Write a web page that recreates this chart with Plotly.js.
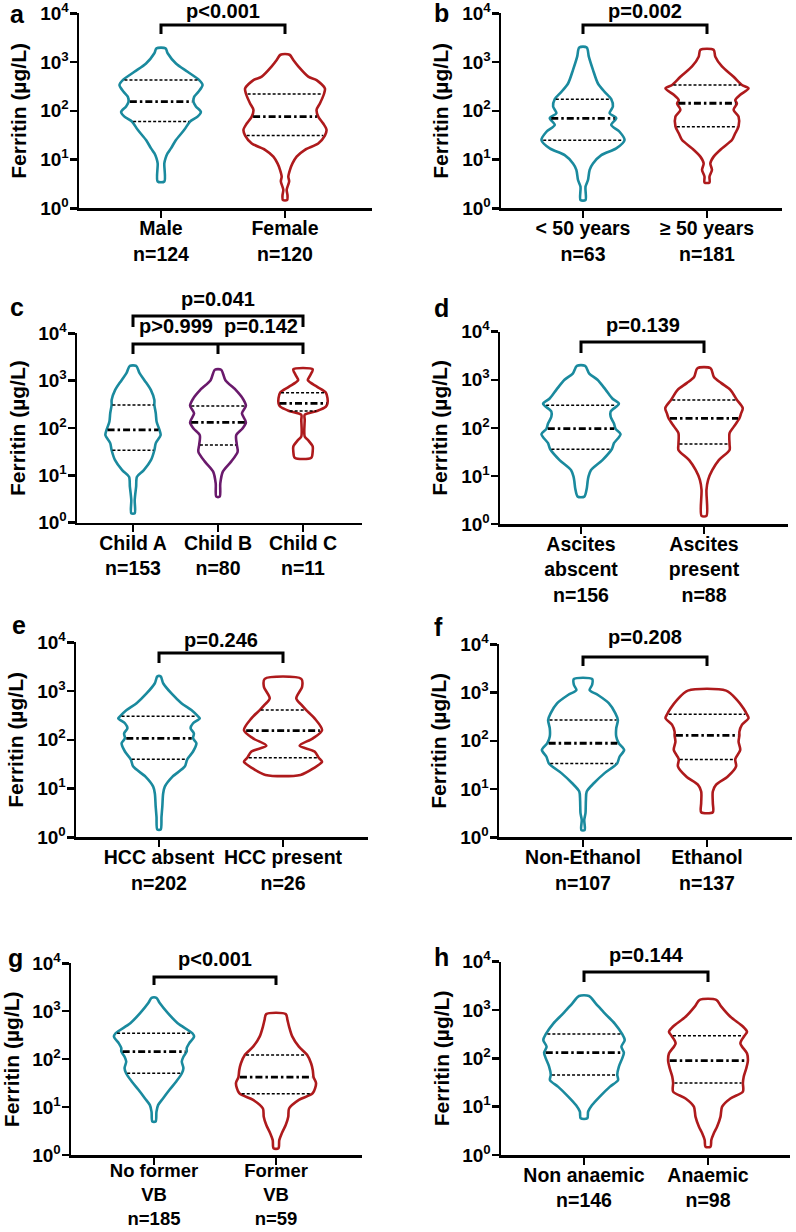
<!DOCTYPE html>
<html><head><meta charset="utf-8">
<script src="https://cdn.plot.ly/plotly-3.0.1.min.js"></script>
<style>html,body{margin:0;padding:0;background:#fff}#chart{width:796px;height:1232px}</style>
</head><body><div id="chart"></div>
<script>
// ---------- tick labels ----------
const yTickVals = [1, 10, 100, 1000, 10000];
const yTickText = ['10<sup>0</sup>', '10<sup>1</sup>', '10<sup>2</sup>', '10<sup>3</sup>', '10<sup>4</sup>'];
const yTitle = 'Ferritin (µg/L)';

// ---------- categories ----------
const catsA = ['Male<br>n=124', 'Female<br>n=120'];
const catsB = ['&lt; 50 years<br>n=63', '≥ 50 years<br>n=181'];
const catsC = ['Child A<br>n=153', 'Child B<br>n=80', 'Child C<br>n=11'];
const catsD = ['Ascites<br>abscent<br>n=156', 'Ascites<br>present<br>n=88'];
const catsE = ['HCC absent<br>n=202', 'HCC present<br>n=26'];
const catsF = ['Non-Ethanol<br>n=107', 'Ethanol<br>n=137'];
const catsG = ['No former<br>VB<br>n=185', 'Former<br>VB<br>n=59'];
const catsH = ['Non anaemic<br>n=146', 'Anaemic<br>n=98'];

// ---------- p-values ----------
const pA = ['p&lt;0.001'];
const pB = ['p=0.002'];
const pC = ['p=0.041', 'p&gt;0.999', 'p=0.142'];
const pD = ['p=0.139'];
const pE = ['p=0.246'];
const pF = ['p=0.208'];
const pG = ['p&lt;0.001'];
const pH = ['p=0.144'];

// ---------- violin profiles: log10(ferritin) levels and relative density (half-width) ----------
const male_lv = [3.28,3.18,2.97,2.80,2.63,2.53,2.39,2.29,2.19,2.09,1.98,1.88,1.78,1.61,1.40,1.23,1.13,1.03,0.92,0.55];
const male_w  = [0.11,0.16,0.36,0.64,0.92,1.00,0.90,0.80,0.78,0.84,0.96,0.88,0.70,0.56,0.36,0.24,0.16,0.11,0.08,0.08];
const male_q  = [60, 154, 429];

const female_lv = [3.15,3.04,2.91,2.70,2.63,2.46,2.35,2.15,2.02,1.88,1.74,1.61,1.49,1.33,1.20,1.06,0.92,0.79,0.65,0.55,0.38,0.27,0.17];
const female_w  = [0.11,0.20,0.32,0.56,0.76,0.96,0.94,0.84,0.76,0.80,0.92,1.00,0.96,0.80,0.48,0.28,0.18,0.12,0.08,0.10,0.04,0.06,0.05];
const female_q  = [31, 76, 221];

const under50_lv = [3.30,3.11,2.84,2.56,2.39,2.24,2.09,1.95,1.85,1.71,1.57,1.40,1.23,1.09,0.92,0.79,0.58,0.44,0.17];
const under50_w  = [0.09,0.14,0.24,0.36,0.52,0.68,0.72,0.64,0.80,0.68,0.88,1.00,0.80,0.44,0.24,0.16,0.12,0.06,0.06];
const under50_q  = [25, 70, 172];

const over50_lv = [3.25,3.11,2.91,2.70,2.53,2.46,2.33,2.22,2.15,2.02,1.88,1.68,1.54,1.40,1.23,1.06,0.92,0.79,0.65,0.53];
const over50_w  = [0.16,0.20,0.36,0.64,0.84,1.00,0.80,0.68,0.72,0.64,0.76,0.76,0.68,0.60,0.36,0.16,0.08,0.12,0.06,0.06];
const over50_q  = [47, 143, 339];

const childA_lv = [3.31,3.16,3.01,2.80,2.59,2.49,2.31,2.13,1.96,1.85,1.68,1.53,1.32,1.11,0.97,0.76,0.48,0.20];
const childA_w  = [0.11,0.23,0.40,0.63,0.75,0.75,0.80,0.83,0.93,0.97,0.80,0.75,0.63,0.38,0.14,0.11,0.06,0.06];
const childA_q  = [34, 91, 306];

const childB_lv = [3.23,3.01,2.80,2.63,2.47,2.31,2.12,1.99,1.85,1.65,1.50,1.29,1.08,0.83,0.55];
const childB_w  = [0.11,0.26,0.63,0.86,0.98,0.84,0.98,0.86,0.64,0.66,0.69,0.46,0.17,0.08,0.06];
const childB_q  = [44, 132, 292];

const childC_lv = [3.24,3.12,3.01,2.87,2.75,2.63,2.52,2.45,2.36,2.28,2.17,1.82,1.75,1.61,1.50,1.37];
const childC_w  = [0.34,0.26,0.17,0.50,0.80,0.86,0.86,0.80,0.49,0.06,0.06,0.06,0.17,0.34,0.34,0.29];
const childC_q  = [229, 332, 557];

const ascAbs_lv = [3.29,3.13,3.00,2.79,2.61,2.50,2.34,2.23,2.09,1.98,1.87,1.68,1.56,1.33,1.12,0.98,0.88,0.74,0.57];
const ascAbs_w  = [0.10,0.20,0.40,0.60,0.76,0.92,0.72,0.72,0.80,0.84,0.96,0.80,0.75,0.52,0.24,0.18,0.16,0.14,0.08];
const ascAbs_q  = [36, 96, 294];

const ascPres_lv = [3.24,3.06,2.93,2.79,2.58,2.41,2.30,2.20,2.02,1.89,1.66,1.54,1.33,1.12,0.92,0.71,0.17];
const ascPres_w  = [0.16,0.24,0.42,0.64,0.80,0.94,0.90,0.86,0.72,0.62,0.62,0.62,0.36,0.20,0.10,0.06,0.06];
const ascPres_q  = [46, 158, 379];

const hccAbs_lv = [3.30,3.16,2.95,2.75,2.61,2.48,2.44,2.34,2.24,2.13,2.03,1.93,1.76,1.60,1.45,1.24,1.04,0.90,0.63,0.42,0.16];
const hccAbs_w  = [0.04,0.10,0.30,0.54,0.78,0.94,0.98,0.82,0.76,0.84,0.82,0.90,0.82,0.68,0.62,0.32,0.14,0.10,0.08,0.06,0.04];
const hccAbs_q  = [40, 107, 303];

const hccPres_lv = [3.25,3.09,2.85,2.72,2.61,2.44,2.20,2.03,1.88,1.76,1.63,1.55,1.42,1.28];
const hccPres_w  = [0.44,0.46,0.32,0.44,0.56,0.76,0.94,0.72,0.40,0.76,0.86,0.94,0.74,0.42];
const hccPres_q  = [43, 154, 409];

const nonEth_lv = [3.28,3.16,3.05,2.95,2.78,2.57,2.43,2.26,2.09,1.95,1.81,1.67,1.53,1.33,1.12,0.95,0.77,0.50,0.36,0.15];
const nonEth_w  = [0.22,0.22,0.16,0.36,0.62,0.78,0.84,0.80,0.80,0.86,0.99,0.88,0.82,0.52,0.26,0.09,0.07,0.06,0.03,0.04];
const nonEth_q  = [34, 89, 270];

const eth_lv = [3.04,2.85,2.67,2.55,2.47,2.33,2.19,2.11,1.98,1.81,1.62,1.47,1.26,1.09,0.95,0.71,0.52];
const eth_w  = [0.46,0.72,0.88,0.96,1.00,0.84,0.78,0.78,0.76,0.80,0.68,0.70,0.50,0.22,0.14,0.14,0.14];
const eth_q  = [41, 130, 354];

const noVB_lv = [3.28,3.17,2.96,2.75,2.54,2.47,2.33,2.23,2.16,2.05,1.95,1.81,1.70,1.53,1.36,1.18,1.04,0.90,0.70];
const noVB_w  = [0.06,0.14,0.34,0.58,0.94,0.98,0.86,0.80,0.80,0.72,0.68,0.72,0.68,0.54,0.38,0.22,0.10,0.06,0.04];
const noVB_q  = [51, 144, 346];

const VB_lv = [2.94,2.82,2.68,2.47,2.26,2.09,1.91,1.77,1.62,1.50,1.29,1.15,0.97,0.80,0.63,0.45,0.31,0.14];
const VB_w  = [0.24,0.28,0.32,0.40,0.56,0.76,0.86,0.90,0.92,0.98,0.90,0.56,0.32,0.30,0.24,0.14,0.08,0.06];
const VB_q  = [19, 42, 122];

const nonAn_lv = [3.29,3.14,2.93,2.72,2.50,2.38,2.24,2.12,2.00,1.83,1.66,1.55,1.41,1.21,1.03,0.90,0.76];
const nonAn_w  = [0.12,0.28,0.50,0.74,0.92,0.98,0.90,0.96,0.92,0.84,0.80,0.82,0.62,0.38,0.19,0.10,0.08];
const nonAn_q  = [45, 131, 318];

const an_lv = [3.21,3.07,2.86,2.66,2.55,2.47,2.31,2.10,1.95,1.79,1.62,1.49,1.31,1.17,1.00,0.79,0.59,0.45,0.31,0.17];
const an_w  = [0.20,0.32,0.54,0.84,0.94,0.88,0.78,0.94,0.96,0.92,0.86,0.84,0.84,0.54,0.34,0.30,0.22,0.14,0.08,0.06];
const an_q  = [31, 90, 294];

// ---------- styling / geometry ----------
const TEAL = '#1a8a9e', RED = '#ae1a1c', PURPLE = '#6a1a6c';
const FONT = 'Liberation Sans, Arial, Helvetica, sans-serif';
const W = 0.335;          // max violin half-width in category units
const FW = 796, FH = 1232;

const panels = [
  {letter:'a', cats:catsA, v:[[male_lv,male_w,male_q],[female_lv,female_w,female_q]], col:[TEAL,RED], p:pA,
   box:{x:[79,372], y:[13.3,208.3], c0:161, sp:124}, let:[8,24], br:[{x0:0,x1:1,top:25,bot:34}], pp:[[0.5,18.5]], std:-6, fs:19.5},
  {letter:'b', cats:catsB, v:[[under50_lv,under50_w,under50_q],[over50_lv,over50_w,over50_q]], col:[TEAL,RED], p:pB,
   box:{x:[501,782], y:[13.3,208.3], c0:583, sp:124}, let:[432,23], br:[{x0:0,x1:1,top:25,bot:34}], pp:[[0.5,18.5]], std:-6, fs:19.5},
  {letter:'c', cats:catsC, v:[[childA_lv,childA_w,childA_q],[childB_lv,childB_w,childB_q],[childC_lv,childC_w,childC_q]], col:[TEAL,PURPLE,RED], p:pC,
   box:{x:[77,362], y:[333.3,522.7], c0:133, sp:85}, let:[8,317],
   br:[{x0:0,x1:2,top:316,bot:327},{x0:0,x1:2,mid:1,top:344,bot:354}], pp:[[1,307],[0.5,334],[1.5,334]], std:-6, fs:19.5},
  {letter:'d', cats:catsD, v:[[ascAbs_lv,ascAbs_w,ascAbs_q],[ascPres_lv,ascPres_w,ascPres_q]], col:[TEAL,RED], p:pD,
   box:{x:[500,788], y:[331.7,524], c0:581, sp:123}, let:[432,318], br:[{x0:0,x1:1,top:342,bot:353}], pp:[[0.5,333]], std:-6, fs:19.5},
  {letter:'e', cats:catsE, v:[[hccAbs_lv,hccAbs_w,hccAbs_q],[hccPres_lv,hccPres_w,hccPres_q]], col:[TEAL,RED], p:pE,
   box:{x:[76,368], y:[642.3,837.3], c0:159, sp:124}, let:[10,635], br:[{x0:0,x1:1,top:653,bot:663}], pp:[[0.5,648]], std:-6, fs:19.5},
  {letter:'f', cats:catsF, v:[[nonEth_lv,nonEth_w,nonEth_q],[eth_lv,eth_w,eth_q]], col:[TEAL,RED], p:pF,
   box:{x:[499,792], y:[644.3,837.3], c0:583, sp:124}, let:[432,637], br:[{x0:0,x1:1,top:657,bot:666}], pp:[[0.5,645]], std:-6, fs:19.5},
  {letter:'g', cats:catsG, v:[[noVB_lv,noVB_w,noVB_q],[VB_lv,VB_w,VB_q]], col:[TEAL,RED], p:pG,
   box:{x:[71,362], y:[963.3,1155], c0:154, sp:122}, let:[6,968], br:[{x0:0,x1:1,top:977,bot:985}], pp:[[0.5,967]], std:-10, fs:18.5},
  {letter:'h', cats:catsH, v:[[nonAn_lv,nonAn_w,nonAn_q],[an_lv,an_w,an_q]], col:[TEAL,RED], p:pH,
   box:{x:[501,790], y:[961.7,1155], c0:584, sp:124}, let:[432,967], br:[{x0:0,x1:1,top:972,bot:982}], pp:[[0.5,963]], std:-6, fs:19.5}
];

function widthAt(lv, w, v) {
  for (let k = 0; k < lv.length - 1; k++) {
    if (v <= lv[k] && v >= lv[k+1]) {
      const t = (lv[k] - v) / (lv[k] - lv[k+1]);
      return w[k] + (w[k+1] - w[k]) * t;
    }
  }
  return 0;
}

const data = [], shapes = [], annotations = [];
const layout = {
  width: FW, height: FH, autosize: false,
  margin: {l:0, r:0, t:0, b:0},
  paper_bgcolor: '#fff', plot_bgcolor: '#fff',
  showlegend: false, hovermode: false,
  font: {family: FONT, color: '#000', size: 19, weight: 'bold'}
};

panels.forEach((P, k) => {
  const n = k + 1, suf = n > 1 ? String(n) : '';
  const xa = 'x' + suf, ya = 'y' + suf;
  const B = P.box;
  layout['xaxis' + suf] = {
    domain: [B.x[0] / FW, B.x[1] / FW],
    range: [(B.x[0] - B.c0) / B.sp, (B.x[1] - B.c0) / B.sp],
    anchor: ya, showgrid: false, zeroline: false, fixedrange: true,
    showline: true, linecolor: '#000', linewidth: 2.5,
    ticks: 'outside', ticklen: 7, tickwidth: 2.5, tickcolor: '#000',
    ticklabelstandoff: P.std, ticklabeloverflow: 'allow',
    tickvals: P.cats.map((c, i) => i), ticktext: P.cats.map(c => '<b>' + c + '</b>'),
    tickfont: {family: FONT, size: P.fs, color: '#000', weight: 'bold'}
  };
  layout['yaxis' + suf] = {
    domain: [1 - B.y[1] / FH, 1 - B.y[0] / FH],
    type: 'log', range: [0, 4],
    anchor: xa, showgrid: false, zeroline: false, fixedrange: true,
    showline: true, linecolor: '#000', linewidth: 2.5,
    ticks: 'outside', ticklen: 7, tickwidth: 2.5, tickcolor: '#000',
    ticklabelstandoff: -3, ticklabeloverflow: 'allow',
    tickvals: yTickVals, ticktext: yTickText.map(t => '<b>' + t + '</b>'),
    tickfont: {family: FONT, size: 19, color: '#000', weight: 'bold'}
  };

  // violins
  P.v.forEach((V, i) => {
    const [lv, w, q] = V;
    const xs = [], ys = [];
    for (let j = 0; j < lv.length; j++) { xs.push(i + W * w[j]); ys.push(Math.pow(10, lv[j])); }
    for (let j = lv.length - 1; j >= 0; j--) { xs.push(i - W * w[j]); ys.push(Math.pow(10, lv[j])); }
    xs.push(xs[0]); ys.push(ys[0]);
    data.push({type: 'scatter', mode: 'lines', x: xs, y: ys, xaxis: xa, yaxis: ya,
      line: {color: P.col[i], width: 2.6, shape: 'spline', smoothing: 0.8}, hoverinfo: 'skip'});
    // quartile lines
    q.forEach((qv, m) => {
      const hw = W * widthAt(lv, w, Math.log10(qv)) * 0.96;
      const med = (m === 1);
      data.push({type: 'scatter', mode: 'lines', x: [i - hw, i + hw], y: [qv, qv], xaxis: xa, yaxis: ya,
        line: {color: '#000', width: med ? 2.8 : 1.5, dash: med ? '7px,3px,2.5px,3px' : '3px,2px'}, hoverinfo: 'skip'});
    });
  });

  // brackets
  P.br.forEach(b => {
    const yt = 1 - b.top / FH, yb = 1 - b.bot / FH;
    let path = `M ${b.x0},${yb} L ${b.x0},${yt} L ${b.x1},${yt} L ${b.x1},${yb}`;
    if (b.mid !== undefined) path += ` M ${b.mid},${yt} L ${b.mid},${yb}`;
    shapes.push({type: 'path', xref: xa, yref: 'paper', path: path, line: {color: '#000', width: 3}});
  });

  // p-values
  P.p.forEach((t, j) => {
    annotations.push({xref: xa, yref: 'paper', x: P.pp[j][0], y: 1 - (P.pp[j][1] + 5) / FH,
      xanchor: 'center', yanchor: 'bottom', showarrow: false, text: '<b>' + t + '</b>',
      font: {family: FONT, size: 20, color: '#000', weight: 'bold'}});
  });

  // panel letter
  annotations.push({xref: 'paper', yref: 'paper', x: P.let[0] / FW, y: 1 - (P.let[1] + 6) / FH,
    xanchor: 'left', yanchor: 'bottom', showarrow: false, text: '<b>' + P.letter + '</b>',
    font: {family: FONT, size: 25, color: '#000', weight: 'bold'}});

  // y title
  annotations.push({xref: 'paper', yref: 'paper', x: (B.x[0] - 60) / FW, y: 1 - (B.y[0] + B.y[1]) / 2 / FH,
    xanchor: 'center', yanchor: 'middle', textangle: -90, showarrow: false, text: '<b>' + yTitle + '</b>',
    font: {family: FONT, size: 21, color: '#000', weight: 'bold'}});
});

layout.shapes = shapes;
layout.annotations = annotations;
Plotly.newPlot('chart', data, layout, {staticPlot: true, displayModeBar: false});
</script>
</body></html>
